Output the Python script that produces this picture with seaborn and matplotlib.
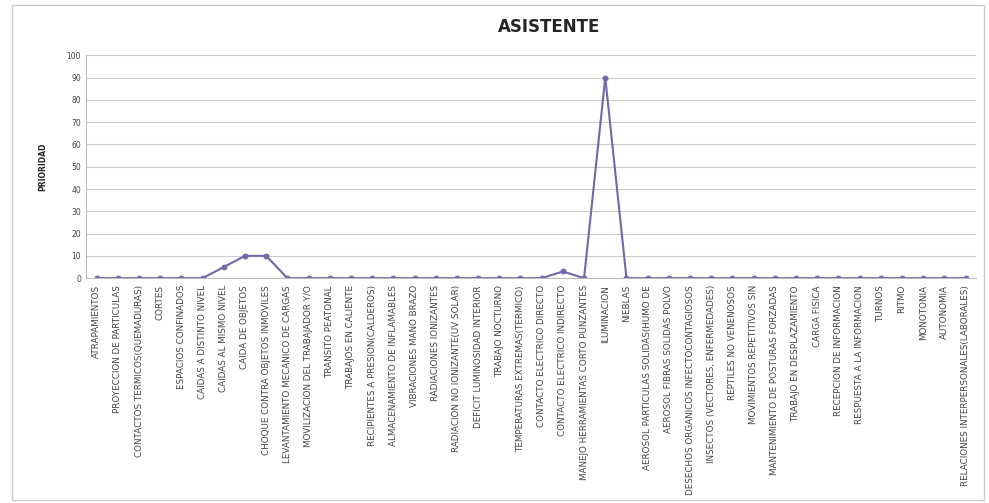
import numpy as np
import matplotlib.pyplot as plt
import seaborn as sns
import pandas as pd

categorias = [
    "ATRAPAMIENTOS", "PROYECCION DE PARTICULAS", "CONTACTOS TERMICOS(QUEMADURAS)",
    "CORTES", "ESPACIOS CONFINADOS", "CAIDAS A DISTINTO NIVEL", "CAIDAS AL MISMO NIVEL",
    "CAIDA DE OBJETOS", "CHOQUE CONTRA OBJETOS INMOVILES",
    "LEVANTAMIENTO MECANICO DE CARGAS", "MOVILIZACION DEL TRABAJADOR Y/O",
    "TRANSITO PEATONAL", "TRABAJOS EN CALIENTE", "RECIPIENTES A PRESION(CALDEROS)",
    "ALMACENAMIENTO DE INFLAMABLES", "VIBRACIONES MANO BRAZO", "RADIACIONES IONIZANTES",
    "RADIACION NO IONIZANTE(UV SOLAR)", "DEFICIT LUMINOSIDAD INTERIOR", "TRABAJO NOCTURNO",
    "TEMPERATURAS EXTREMAS(TERMICO)", "CONTACTO ELECTRICO DIRECTO",
    "CONTACTO ELECTRICO INDIRECTO", "MANEJO HERRAMIENTAS CORTO PUNZANTES", "ILUMINACION",
    "NIEBLAS", "AEROSOL PARTICULAS SOLIDAS(HUMO DE", "AEROSOL FIBRAS SOLIDAS POLVO",
    "DESECHOS ORGANICOS INFECTOCONTAGIOSOS", "INSECTOS (VECTORES, ENFERMEDADES)",
    "REPTILES NO VENENOSOS", "MOVIMIENTOS REPETITIVOS SIN", "MANTENIMIENTO DE POSTURAS FORZADAS",
    "TRABAJO EN DESPLAZAMIENTO", "CARGA FISICA", "RECEPCION DE INFORMACION",
    "RESPUESTA A LA INFORMACION", "TURNOS", "RITMO", "MONOTONIA", "AUTONOMIA",
    "RELACIONES INTERPERSONALES(LABORALES)",
]
prioridad = [0, 0, 0, 0, 0, 0, 5, 10, 10, 0, 0, 0, 0, 0, 0, 0, 0, 0, 0, 0, 0, 0,
             3, 0, 90, 0, 0, 0, 0, 0, 0, 0, 0, 0, 0, 0, 0, 0, 0, 0, 0, 0]

df = pd.DataFrame({"pos": np.arange(len(categorias)), "Prioridad": prioridad})

sns.set_style("white")
fig = plt.figure(figsize=(9.89, 5.03), dpi=100)
ax = fig.add_axes([0.087, 0.447, 0.9, 0.443])

sns.lineplot(data=df, x="pos", y="Prioridad", ax=ax, color="#7466a8",
             marker="o", markersize=3.5, linewidth=1.5, markeredgecolor="#7466a8")

ax.set_ylim(0, 100)
ax.set_yticks(range(0, 101, 10))
ax.set_xlim(-0.5, len(categorias) - 0.5)
ax.set_xticks(df["pos"])
ax.set_xticklabels(categorias, rotation=90, fontsize=6.3, color="#444444")
ax.tick_params(axis="y", labelsize=5.5, colors="#444444", length=0)
ax.tick_params(axis="x", length=2, color="#bbbbbb", pad=3)
ax.grid(True, axis="y", color="#cccccc", linewidth=0.8)
ax.set_axisbelow(True)
for side in ["top", "right"]:
    ax.spines[side].set_visible(False)
ax.spines["left"].set_color("#bbbbbb")
ax.spines["bottom"].set_color("#bbbbbb")
ax.set_xlabel("")
ax.set_ylabel("PRIORIDAD", fontsize=5.5, fontweight="bold", labelpad=14)

fig.suptitle("ASISTENTE", fontsize=12, fontweight="bold", x=0.555, y=0.965)
fig.patches.append(plt.Rectangle((0.012, 0.005), 0.983, 0.985, transform=fig.transFigure,
                                 fill=False, edgecolor="#cccccc", linewidth=1))

fig.savefig("out.png", dpi=100)
